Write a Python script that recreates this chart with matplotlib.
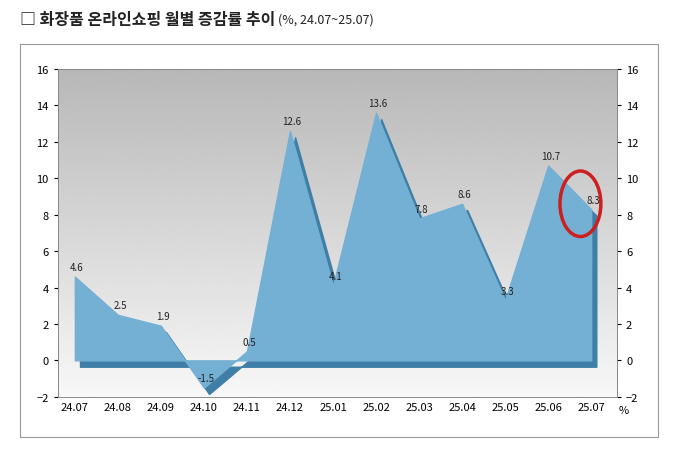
import matplotlib
matplotlib.use("Agg")
import matplotlib.pyplot as plt
import numpy as np
from matplotlib.patches import Ellipse

months = ["24.07", "24.08", "24.09", "24.10", "24.11", "24.12", "25.01",
          "25.02", "25.03", "25.04", "25.05", "25.06", "25.07"]
rates = [4.6, 2.5, 1.9, -1.5, 0.5, 12.6, 4.1, 13.6, 7.8, 8.6, 3.3, 10.7, 8.3]

plt.rcParams["font.family"] = ["Noto Sans CJK KR", "Noto Sans CJK JP",
                               "Noto Sans CJK SC", "DejaVu Sans"]

fig = plt.figure(figsize=(6.78, 4.52), dpi=100)
t = fig.text(0.03, 0.955, "□ 화장품 온라인쇼핑 월별 증감률 추이", fontsize=11.5,
             fontweight="bold", va="center", color="#222222")
fig.canvas.draw()
bb = t.get_window_extent().transformed(fig.transFigure.inverted())
fig.text(bb.x1 + 0.003, 0.955, "(%, 24.07~25.07)", fontsize=9, va="center",
         color="#222222")

frame = plt.Rectangle((0.03, 0.03), 0.94, 0.87, transform=fig.transFigure,
                      fill=False, edgecolor="#999999", lw=0.8)
fig.patches.append(frame)

ax = fig.add_axes([0.085, 0.12, 0.825, 0.725])
x = np.arange(len(months))

# background gradient
grad = np.linspace(0.72, 0.97, 256).reshape(-1, 1)
ax.imshow(grad, extent=[-0.4, 12.6, -2, 16], aspect="auto", cmap="gray",
          vmin=0, vmax=1, origin="upper", zorder=0)

# 3D side (shadow) and front area
dx, dy = 0.12, -0.35
ax.fill_between(x + dx, np.array(rates) + dy, 0 + dy, color="#3f7ea6", zorder=2)
ax.fill_between(x, rates, 0, color="#74b0d4", zorder=3)

for xi, v in zip(x, rates):
    ax.text(xi + 0.05, v + 0.25, f"{v:g}", fontsize=7, ha="center", va="bottom",
            color="#222222", zorder=5)

ax.add_patch(Ellipse((11.75, 8.6), 0.95, 3.6, fill=False, edgecolor="#cc1f1f",
                     lw=2.5, zorder=6))

ax.set_xlim(-0.4, 12.6)
ax.set_ylim(-2, 16)
ax.set_yticks(range(-2, 17, 2))
ax.set_xticks(x)
ax.set_xticklabels(months, fontsize=8)
ax.tick_params(axis="y", labelsize=8, length=3)
ax.tick_params(axis="x", length=0)
ax2 = ax.twinx()
ax2.set_ylim(-2, 16)
ax2.set_yticks(range(-2, 17, 2))
ax2.tick_params(axis="y", labelsize=8, length=3)
for a in (ax, ax2):
    for s in a.spines.values():
        s.set_color("#888888")
        s.set_linewidth(0.6)
fig.text(0.913, 0.083, "%", fontsize=8)

fig.savefig("out.png", dpi=100)
